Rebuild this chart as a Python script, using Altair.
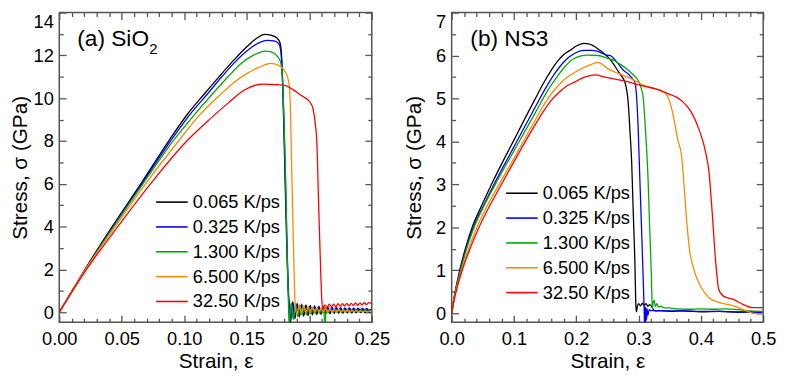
import altair as alt
import pandas as pd

FONT = "Liberation Sans"
RATES = ["0.065 K/ps", "0.325 K/ps", "1.300 K/ps", "6.500 K/ps", "32.50 K/ps"]
COLORS = ["#000000", "#0000ff", "#00aa00", "#ff8800", "#ff0000"]

# ---------------- (a) SiO2 ----------------
A_K065_X = [0, 0.0205, 0.0423, 0.0652, 0.0875, 0.1025, 0.1165, 0.130, 0.140, 0.150, 0.158, 0.164, 0.170, 0.174,
            0.1765, 0.1778, 0.179, 0.1805, 0.182, 0.1832, 0.1842,
            0.1850, 0.1868, 0.1885, 0.1903, 0.192, 0.1938, 0.1955, 0.1973, 0.199, 0.2008, 0.2025, 0.2043, 0.206,
            0.2078, 0.2095, 0.2113, 0.213, 0.2148, 0.2165, 0.2183, 0.22, 0.2218, 0.2235, 0.2253, 0.227, 0.2288,
            0.2305, 0.2323, 0.234, 0.2358, 0.2375, 0.2393, 0.241, 0.2428, 0.2445, 0.2463, 0.248, 0.25]
A_K065_Y = [0, 2, 4, 6, 8, 9.25, 10.23, 11.15, 11.8, 12.4, 12.8, 12.98, 12.93, 12.82,
            12.6, 12.0, 10.0, 6.5, 3.0, 1.0, 0.2,
            -0.45, 0.5, -0.3, 0.42, -0.22, 0.38, -0.18, 0.35, -0.15, 0.32, -0.12, 0.3, -0.1,
            0.28, -0.1, 0.27, -0.08, 0.25, -0.07, 0.23, -0.06, 0.22, -0.05, 0.2, -0.05, 0.18,
            -0.04, 0.17, -0.04, 0.15, -0.03, 0.14, -0.02, 0.13, -0.02, 0.12, -0.01, 0.08]

A_K325_X = [0, 0.0207, 0.043, 0.066, 0.089, 0.104, 0.119, 0.130, 0.140, 0.150, 0.160, 0.1667, 0.172, 0.1755,
            0.1772, 0.1785, 0.1797, 0.181, 0.1825, 0.1837,
            0.1848, 0.1865, 0.1882, 0.19, 0.1917, 0.1935, 0.1952, 0.197, 0.1987, 0.2005, 0.2022, 0.204, 0.2057,
            0.2075, 0.2092, 0.211, 0.2127, 0.2145, 0.2162, 0.218, 0.2197, 0.2215, 0.2232, 0.225, 0.2267, 0.2285,
            0.2302, 0.232, 0.2337, 0.2355, 0.2372, 0.239, 0.2407, 0.2425, 0.2442, 0.246, 0.2477, 0.25]
A_K325_Y = [0, 2, 4, 6, 8, 9.2, 10.23, 11.0, 11.65, 12.2, 12.6, 12.7, 12.68, 12.55,
            12.2, 11.0, 9.0, 6.0, 2.5, 0.3,
            -0.35, 0.4, -0.15, 0.35, -0.05, 0.3, 0.0, 0.28, 0.02, 0.27, 0.03, 0.25, 0.04,
            0.25, 0.05, 0.24, 0.05, 0.23, 0.06, 0.22, 0.07, 0.22, 0.07, 0.21, 0.08, 0.2,
            0.08, 0.2, 0.09, 0.19, 0.09, 0.19, 0.1, 0.18, 0.1, 0.18, 0.1, 0.15]

A_K1300_X = [0, 0.021, 0.0435, 0.067, 0.091, 0.107, 0.123, 0.135, 0.145, 0.155, 0.165, 0.170, 0.1745, 0.177,
             0.1785, 0.1795, 0.181, 0.1822, 0.1833, 0.1838,
             0.1855, 0.1872, 0.189, 0.1907, 0.1925, 0.1942, 0.196, 0.1977, 0.1995, 0.2012, 0.203, 0.2047, 0.2065,
             0.2082, 0.21, 0.2117, 0.2126, 0.2135, 0.2152, 0.217, 0.2187, 0.2205, 0.2222, 0.224, 0.2257, 0.2275,
             0.2292, 0.231, 0.2327, 0.2345, 0.2362, 0.238, 0.2397, 0.2415, 0.2432, 0.245, 0.2467, 0.25]
A_K1300_Y = [0, 2, 4, 6, 8, 9.15, 10.23, 11.0, 11.6, 12.0, 12.2, 12.15, 11.95, 11.7,
             11.0, 9.5, 6.5, 3.0, 0.5, -0.6,
             0.45, -0.35, 0.4, -0.2, 0.3, -0.12, 0.28, -0.1, 0.25, -0.08, 0.22, -0.06, 0.2,
             -0.05, 0.18, -0.04, -0.7, 0.15, -0.02, 0.14, 0.0, 0.13, 0.0, 0.12, 0.0, 0.11,
             0.01, 0.11, 0.01, 0.1, 0.02, 0.1, 0.02, 0.09, 0.02, 0.09, 0.03, 0.07]

A_K6500_X = [0, 0.021, 0.0447, 0.069, 0.0954, 0.112, 0.130, 0.140, 0.150, 0.160, 0.169, 0.175, 0.180, 0.1828,
             0.1843, 0.185, 0.1858, 0.187, 0.188, 0.189,
             0.1902, 0.192, 0.1937, 0.1955, 0.1972, 0.199, 0.2007, 0.2025, 0.2042, 0.206, 0.2077, 0.2095, 0.2112,
             0.213, 0.2147, 0.2165, 0.2182, 0.22, 0.2217, 0.2235, 0.2252, 0.227, 0.2287, 0.2305, 0.2322, 0.234,
             0.2357, 0.2375, 0.2392, 0.241, 0.2427, 0.2445, 0.2462, 0.25]
A_K6500_Y = [0, 2, 4, 6, 8, 9.2, 10.23, 10.75, 11.15, 11.45, 11.63, 11.55, 11.3, 10.95,
             10.4, 9.3, 7.0, 4.0, 1.5, 0.1,
             -0.1, 0.35, -0.05, 0.3, -0.02, 0.27, 0.0, 0.25, 0.0, 0.22, 0.0, 0.2, 0.01,
             0.18, 0.01, 0.16, 0.01, 0.15, 0.02, 0.13, 0.02, 0.12, 0.02, 0.11, 0.02, 0.1,
             0.02, 0.09, 0.02, 0.08, 0.02, 0.07, 0.02, 0.05]

A_K3250_X = [0, 0.0218, 0.0468, 0.073, 0.102, 0.12, 0.135, 0.148, 0.1627, 0.170, 0.180, 0.187, 0.193, 0.2008,
             0.203, 0.2048, 0.206, 0.2074, 0.2088, 0.210, 0.2108,
             0.2125, 0.2142, 0.216, 0.2177, 0.2195, 0.2212, 0.223, 0.2247, 0.2265, 0.2282, 0.23, 0.2317, 0.2335,
             0.2352, 0.237, 0.2387, 0.2405, 0.2422, 0.244, 0.2457, 0.2475, 0.25]
A_K3250_Y = [0, 2, 4, 6, 8, 9.0, 9.77, 10.38, 10.66, 10.64, 10.6, 10.4, 10.15, 9.8,
             9.5, 8.8, 8.0, 5.2, 2.5, 0.6, 0.15,
             0.35, 0.22, 0.38, 0.25, 0.38, 0.26, 0.4, 0.28, 0.4, 0.3, 0.42, 0.3, 0.42,
             0.31, 0.44, 0.32, 0.44, 0.34, 0.45, 0.35, 0.45, 0.4]

# ---------------- (b) NS3 ----------------
B_K065_X = [0, 0.005, 0.013, 0.022, 0.033, 0.048, 0.064, 0.080, 0.0935, 0.1067, 0.12, 0.133, 0.146, 0.1595,
            0.170, 0.1806, 0.19, 0.20, 0.2123, 0.22, 0.228, 0.238, 0.249, 0.255, 0.262, 0.270, 0.278, 0.2835,
            0.286, 0.2889, 0.2914, 0.294, 0.2957, 0.2965, 0.298, 0.300, 0.303, 0.306, 0.309, 0.312, 0.315,
            0.318, 0.321, 0.324, 0.327, 0.335, 0.35, 0.37, 0.40, 0.43, 0.46, 0.48, 0.50]
B_K065_Y = [0, 0.45, 1.0, 1.5, 2.0, 2.5, 3.0, 3.47, 3.85, 4.22, 4.6, 4.96, 5.32, 5.65,
            5.87, 6.03, 6.12, 6.22, 6.28, 6.27, 6.22, 6.12, 5.99, 5.9, 5.75, 5.57, 5.38, 4.88,
            4.28, 3.52, 2.37, 1.23, 0.17, 0.03, 0.15, 0.22, 0.17, 0.23, 0.18, 0.22, 0.16,
            0.2, 0.15, 0.08, 0.05, 0.06, 0.04, 0.05, 0.03, 0.04, 0.02, 0.03, 0.02]

B_K325_X = [0, 0.005, 0.014, 0.023, 0.035, 0.051, 0.067, 0.084, 0.098, 0.112, 0.125, 0.139, 0.152, 0.165,
            0.18, 0.19, 0.20, 0.212, 0.225, 0.2334, 0.242, 0.249, 0.255, 0.26, 0.2677, 0.276, 0.2835, 0.29,
            0.294, 0.2968, 0.2994, 0.302, 0.3047, 0.3073, 0.3089, 0.3097, 0.3105, 0.3113, 0.312, 0.3128, 0.3136,
            0.315, 0.317, 0.32, 0.33, 0.35, 0.37, 0.40, 0.43, 0.46, 0.48, 0.50]
B_K325_Y = [0, 0.43, 1.0, 1.5, 2.0, 2.5, 2.97, 3.44, 3.82, 4.2, 4.55, 4.93, 5.27, 5.57,
            5.85, 5.98, 6.07, 6.12, 6.12, 6.1, 6.05, 6.01, 6.0, 5.93, 5.8, 5.65, 5.57, 5.46,
            5.38, 5.04, 4.28, 3.13, 1.99, 0.85, 0.09, -0.3, 0.15, -0.3, 0.12, -0.15, 0.1,
            -0.05, 0.08, 0.06, 0.06, 0.05, 0.05, 0.04, 0.04, 0.03, 0.03, 0.01]

B_K1300_X = [0, 0.005, 0.014, 0.024, 0.036, 0.052, 0.069, 0.086, 0.1, 0.115, 0.128, 0.143, 0.157, 0.17,
             0.183, 0.195, 0.2176, 0.235, 0.249, 0.261, 0.27, 0.278, 0.29, 0.2994, 0.304, 0.3073, 0.311,
             0.3152, 0.3178, 0.3206, 0.322, 0.3235, 0.325, 0.327, 0.329, 0.332, 0.336, 0.34, 0.35, 0.36, 0.38,
             0.40, 0.42, 0.44, 0.46, 0.48, 0.50]
B_K1300_Y = [0, 0.42, 0.98, 1.5, 2.0, 2.5, 2.97, 3.42, 3.78, 4.17, 4.5, 4.9, 5.25, 5.52,
             5.76, 5.92, 6.01, 6.0, 5.94, 5.88, 5.8, 5.72, 5.57, 5.42, 5.25, 5.04, 4.28,
             3.13, 1.99, 0.85, 0.1, 0.25, 0.3, 0.15, 0.22, 0.14, 0.16, 0.13, 0.12, 0.1, 0.09,
             0.1, 0.09, 0.1, 0.08, 0.05, 0.04]

B_K6500_X = [0, 0.005, 0.015, 0.026, 0.039, 0.056, 0.075, 0.091, 0.1067, 0.12, 0.133, 0.146, 0.1595, 0.173,
             0.186, 0.2, 0.212, 0.222, 0.2334, 0.2414, 0.25, 0.2624, 0.273, 0.2835, 0.296, 0.31, 0.323, 0.3364,
             0.3469, 0.3548, 0.3627, 0.369, 0.3722, 0.376, 0.3812, 0.389, 0.3998, 0.413, 0.4314, 0.4525, 0.4735,
             0.489, 0.50]
B_K6500_Y = [0, 0.4, 0.95, 1.45, 1.95, 2.47, 2.97, 3.38, 3.78, 4.13, 4.47, 4.8, 5.1, 5.33,
             5.5, 5.63, 5.72, 5.78, 5.84, 5.8, 5.7, 5.61, 5.55, 5.49, 5.4, 5.3, 5.24, 5.19,
             5.04, 4.66, 4.05, 3.67, 3.13, 2.37, 1.54, 1.0, 0.62, 0.36, 0.24, 0.17, 0.05,
             -0.02, 0.0]

B_K3250_X = [0, 0.005, 0.017, 0.030, 0.044, 0.060, 0.077, 0.092, 0.1067, 0.12, 0.133, 0.146, 0.1595, 0.173,
             0.186, 0.2, 0.212, 0.2308, 0.245, 0.2624, 0.28, 0.294, 0.31, 0.3258, 0.3443, 0.368, 0.3839, 0.397,
             0.4077, 0.413, 0.418, 0.4235, 0.4287, 0.4367, 0.4525, 0.468, 0.484, 0.50]
B_K3250_Y = [0, 0.37, 1.0, 1.52, 2.0, 2.47, 2.92, 3.32, 3.7, 4.04, 4.36, 4.67, 4.95, 5.15,
             5.3, 5.4, 5.49, 5.55, 5.5, 5.45, 5.4, 5.34, 5.28, 5.23, 5.13, 4.96, 4.7, 4.28,
             3.74, 3.29, 2.37, 1.23, 0.55, 0.39, 0.32, 0.2, 0.13, 0.13]

# axis ticks / labels
A_X_MAJOR = [0.0, 0.05, 0.10, 0.15, 0.20, 0.25]
A_X_MINOR = [0.01, 0.02, 0.03, 0.04, 0.06, 0.07, 0.08, 0.09, 0.11, 0.12, 0.13, 0.14,
             0.16, 0.17, 0.18, 0.19, 0.21, 0.22, 0.23, 0.24]
A_Y_MAJOR = [0, 2, 4, 6, 8, 10, 12, 14]
A_Y_MINOR = [1, 3, 5, 7, 9, 11, 13]
B_X_MAJOR = [0.0, 0.1, 0.2, 0.3, 0.4, 0.5]
B_X_MINOR = [0.02, 0.04, 0.06, 0.08, 0.12, 0.14, 0.16, 0.18, 0.22, 0.24, 0.26, 0.28,
             0.32, 0.34, 0.36, 0.38, 0.42, 0.44, 0.46, 0.48]
B_Y_MAJOR = [0, 1, 2, 3, 4, 5, 6, 7]
B_Y_MINOR = [0.5, 1.5, 2.5, 3.5, 4.5, 5.5, 6.5]


def table(xs_list, ys_list):
    rows = []
    for rate, xs, ys in zip(RATES, xs_list, ys_list):
        for i, (x, y) in enumerate(zip(xs, ys)):
            rows.append({"rate": rate, "strain": x, "stress": y, "i": i})
    return pd.DataFrame(rows)


DF_A = table([A_K065_X, A_K325_X, A_K1300_X, A_K6500_X, A_K3250_X],
             [A_K065_Y, A_K325_Y, A_K1300_Y, A_K6500_Y, A_K3250_Y])
DF_B = table([B_K065_X, B_K325_X, B_K1300_X, B_K6500_X, B_K3250_X],
             [B_K065_Y, B_K325_Y, B_K1300_Y, B_K6500_Y, B_K3250_Y])

W_A, W_B, H = 317, 316, 314
MAJ, MIN = 7, 4


def axis(orient, values, size, labels=False, **kw):
    return alt.Axis(orient=orient, values=values, tickSize=size, offset=-size, domain=False,
                    grid=False, labels=labels, **kw)


def panel(df, xdom, ydom, xmaj, xmin, ymaj, ymin, xfmt, texts, legx, legy, width, ytp):
    xs = alt.Scale(domain=xdom, nice=False, zero=False)
    ys = alt.Scale(domain=ydom, nice=False, zero=False)
    lines = alt.Chart(df).mark_line(clip=True, strokeWidth=1.3, interpolate="monotone").encode(
        x=alt.X("strain:Q", scale=xs,
                axis=axis("bottom", xmaj, MAJ, labels=True, format=xfmt, title="Strain, ε",
                          labelPadding=8, titlePadding=3, labelFlush=False)),
        y=alt.Y("stress:Q", scale=ys,
                axis=axis("left", ymaj, MAJ, labels=True, format="d", title="Stress, σ (GPa)",
                          labelPadding=6, titlePadding=ytp, labelFlush=True)),
        color=alt.Color("rate:N", scale=alt.Scale(domain=RATES, range=COLORS),
                        legend=alt.Legend(orient="none", legendX=legx, legendY=legy, title=None,
                                          symbolType="M-3.2,0H3.2", symbolSize=100,
                                          symbolStrokeWidth=1.6, labelFont=FONT,
                                          labelFontSize=18.5, labelColor="black",
                                          labelOffset=12, rowPadding=6.2, padding=0)),
        order="i:Q",
    )
    corners = pd.DataFrame({"strain": xdom, "stress": ydom})

    def ghost(xa, ya):
        return alt.Chart(corners).mark_point(opacity=0, clip=True).encode(
            x=alt.X("strain:Q", scale=xs, axis=xa),
            y=alt.Y("stress:Q", scale=ys, axis=ya),
        )

    layers = [
        lines,
        ghost(axis("bottom", xmin, MIN, title=None), axis("left", ymin, MIN, title=None)),
        ghost(axis("top", xmaj, MAJ, title=None), axis("right", ymaj, MAJ, title=None)),
        ghost(axis("top", xmin, MIN, title=None), axis("right", ymin, MIN, title=None)),
    ]
    for t in texts:
        tdf = pd.DataFrame({"strain": [t[0]], "stress": [t[1]], "t": [t[2]]})
        layers.append(
            alt.Chart(tdf).mark_text(align="left", baseline="alphabetic", font=FONT,
                                     fontSize=t[3], dx=t[4], dy=t[5], color="black").encode(
                x=alt.X("strain:Q", scale=xs, axis=None),
                y=alt.Y("stress:Q", scale=ys, axis=None),
                text="t:N",
            )
        )
    return alt.layer(*layers).resolve_axis(x="independent", y="independent").properties(
        width=width, height=H)


left = panel(DF_A, [0, 0.25], [-0.46, 14], A_X_MAJOR, A_X_MINOR, A_Y_MAJOR, A_Y_MINOR, ".2f",
             [(0.0144, 12.45, "(a) SiO", 23, 0, 0), (0.0144, 12.45, "2", 15, 73, 8)],
             105, 183, W_A, 3)
right = panel(DF_B, [0, 0.5], [-0.21, 7], B_X_MAJOR, B_X_MINOR, B_Y_MAJOR, B_Y_MINOR, ".1f",
              [(0.030, 6.22, "(b) NS3", 23, 0, 0)],
              62, 174, W_B, 11)

chart = alt.hconcat(left, right, spacing=81, bounds="flush").resolve_scale(color="independent").properties(
    padding={"left": 0, "top": 0, "right": 0, "bottom": 0}
).configure(font=FONT).configure_view(stroke="#555555", strokeWidth=1.5).configure_axis(
    labelFont=FONT, titleFont=FONT, labelFontSize=18.5, titleFontSize=21, labelColor="black",
    titleColor="black", titleFontWeight="normal", tickColor="#555555", tickWidth=1.3
)

chart.save("out.html", embed_options={"renderer": "svg", "actions": False})
